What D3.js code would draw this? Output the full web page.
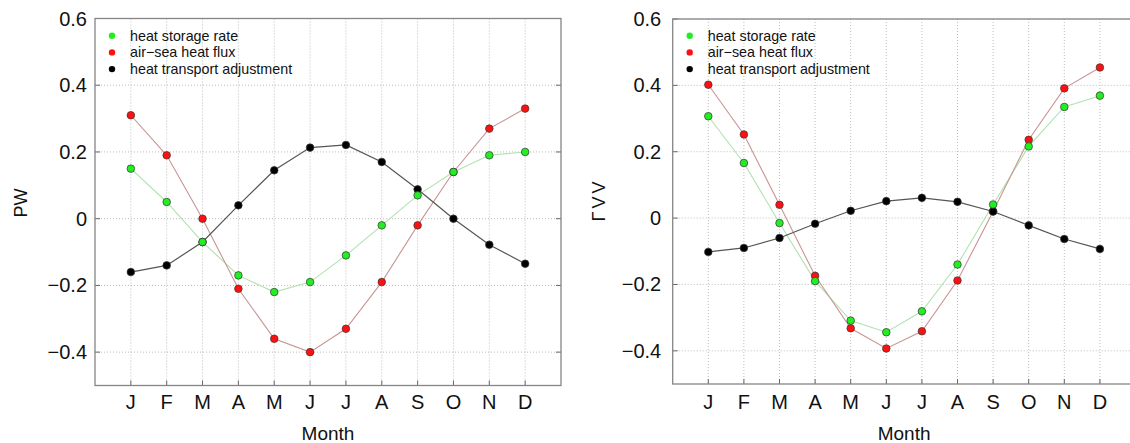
<!DOCTYPE html>
<html>
<head>
<meta charset="utf-8">
<script src="https://cdn.jsdelivr.net/npm/d3@7"></script>
<style>
  body { margin: 0; background: #fff; }
  text { font-family: "Liberation Sans", Arial, sans-serif; fill: #111; }
</style>
</head>
<body>
<script>
var width = 1130,
    height = 443;

var months = ["J", "F", "M", "A", "M", "J", "J", "A", "S", "O", "N", "D"];
var yTicks = [-0.4, -0.2, 0, 0.2, 0.4, 0.6];
var seriesNames = ["heat storage rate", "air\u2212sea heat flux", "heat transport adjustment"];

// left panel values (PW)
var leftStorage = [0.15, 0.05, -0.07, -0.17, -0.22, -0.19, -0.11, -0.02, 0.07, 0.14, 0.19, 0.20];
var leftFlux = [0.31, 0.19, 0.00, -0.21, -0.36, -0.40, -0.33, -0.19, -0.02, 0.14, 0.27, 0.33];
var leftTransport = [-0.16, -0.14, -0.07, 0.04, 0.145, 0.213, 0.221, 0.17, 0.088, 0.00, -0.078, -0.135];

// right panel values
var rightStorage = [0.307, 0.166, -0.015, -0.19, -0.309, -0.344, -0.281, -0.14, 0.041, 0.216, 0.335, 0.369];
var rightFlux = [0.402, 0.252, 0.04, -0.174, -0.332, -0.393, -0.341, -0.188, 0.02, 0.236, 0.391, 0.454];
var rightTransport = [-0.102, -0.09, -0.06, -0.017, 0.022, 0.051, 0.061, 0.049, 0.02, -0.022, -0.063, -0.093];

var svg = d3.select("body").append("svg")
    .attr("width", width)
    .attr("height", height);

var seriesStyle = [
    { line: "#b0e2b0", fill: "#22ee22" },
    { line: "#c99494", fill: "#ff1010" },
    { line: "#555555", fill: "#000000" }
];

function drawPanel(p) {
    var g = svg.append("g");

    var x = d3.scaleLinear().domain([0, 13]).range([p.left, p.right]);
    var y = d3.scaleLinear().domain([-0.5, 0.6]).range([p.bottom, p.top]);

    // grid, dotted
    g.selectAll(".vgrid")
        .data(months)
        .enter().append("line")
        .attr("x1", function (d, i) { return x(i + 1); })
        .attr("x2", function (d, i) { return x(i + 1); })
        .attr("y1", p.top)
        .attr("y2", p.bottom)
        .attr("stroke", "#bdbdbd")
        .attr("stroke-width", 1)
        .attr("stroke-dasharray", "1,2");

    g.selectAll(".hgrid")
        .data(yTicks)
        .enter().append("line")
        .attr("x1", p.left)
        .attr("x2", p.right)
        .attr("y1", function (d) { return y(d); })
        .attr("y2", function (d) { return y(d); })
        .attr("stroke", "#bdbdbd")
        .attr("stroke-width", 1)
        .attr("stroke-dasharray", "1,2");

    // tick marks (inward, mirrored)
    g.selectAll(".ytickL")
        .data(yTicks)
        .enter().append("line")
        .attr("x1", p.left).attr("x2", p.left + 5)
        .attr("y1", function (d) { return y(d); })
        .attr("y2", function (d) { return y(d); })
        .attr("stroke", "#666");
    g.selectAll(".ytickR")
        .data(yTicks)
        .enter().append("line")
        .attr("x1", p.right).attr("x2", p.right - 5)
        .attr("y1", function (d) { return y(d); })
        .attr("y2", function (d) { return y(d); })
        .attr("stroke", "#666");
    g.selectAll(".xtick")
        .data(months)
        .enter().append("line")
        .attr("x1", function (d, i) { return x(i + 1); })
        .attr("x2", function (d, i) { return x(i + 1); })
        .attr("y1", p.bottom).attr("y2", p.bottom - 5)
        .attr("stroke", "#666");

    // border
    g.append("rect")
        .attr("x", p.left)
        .attr("y", p.top)
        .attr("width", p.right - p.left)
        .attr("height", p.bottom - p.top)
        .attr("fill", "none")
        .attr("stroke", "#858585")
        .attr("stroke-width", 1.3);

    // tick labels
    g.selectAll(".ylab")
        .data(yTicks)
        .enter().append("text")
        .attr("x", p.left - p.labelGap)
        .attr("y", function (d) { return y(d) + 7; })
        .attr("text-anchor", "end")
        .style("font-size", "20px")
        .text(function (d) { return d == 0 ? "0" : d3.format(".1f")(d).replace("-", "\u2212"); });

    g.selectAll(".xlab")
        .data(months)
        .enter().append("text")
        .attr("x", function (d, i) { return x(i + 1); })
        .attr("y", 409)
        .attr("text-anchor", "middle")
        .style("font-size", "20px")
        .text(function (d) { return d; });

    g.append("text")
        .attr("x", (p.left + p.right) / 2)
        .attr("y", 440)
        .attr("text-anchor", "middle")
        .style("font-size", "19px")
        .text("Month");

    g.append("text")
        .attr("transform", "translate(" + p.ylabelX + "," + p.ylabelY + ") rotate(-90)")
        .attr("text-anchor", "middle")
        .style("font-size", "18px")
        .style("letter-spacing", p.ylabelSpacing)
        .text(p.ylabel);

    // lines then markers
    var series = [p.storage, p.flux, p.transport];
    var line = d3.line()
        .x(function (d, i) { return x(i + 1); })
        .y(function (d) { return y(d); });

    series.forEach(function (s, k) {
        g.append("path")
            .attr("d", line(s))
            .attr("fill", "none")
            .attr("stroke", seriesStyle[k].line)
            .attr("stroke-width", k == 2 ? 1.2 : 1.1);
    });

    // draw order: flux, transport, storage
    [1, 2, 0].forEach(function (k) {
        g.selectAll(".pt" + k)
            .data(series[k])
            .enter().append("circle")
            .attr("cx", function (d, i) { return x(i + 1); })
            .attr("cy", function (d) { return y(d); })
            .attr("r", 3.8)
            .attr("fill", seriesStyle[k].fill)
            .attr("stroke", "#333")
            .attr("stroke-width", 0.7);
    });

    // legend
    var leg = g.selectAll(".leg")
        .data(seriesNames)
        .enter().append("g")
        .attr("transform", function (d, i) {
            return "translate(" + (p.left + 17) + "," + (35.7 + i * 16.7) + ")";
        });
    leg.append("circle")
        .attr("r", 3.2)
        .attr("fill", function (d, i) { return seriesStyle[i].fill; });
    leg.append("text")
        .attr("x", 18)
        .attr("y", 5)
        .style("font-size", "14.3px")
        .text(function (d) { return d; });
}

drawPanel({
    left: 95, right: 561, top: 18.5, bottom: 385.5,
    labelGap: 8, ylabelX: 27, ylabelY: 203, ylabel: "PW", ylabelSpacing: "0px",
    storage: leftStorage, flux: leftFlux, transport: leftTransport
});

drawPanel({
    left: 672.7, right: 1135.5, top: 19, bottom: 384,
    labelGap: 11.5, ylabelX: 605, ylabelY: 200, ylabel: "\u0393VV", ylabelSpacing: "3px",
    storage: rightStorage, flux: rightFlux, transport: rightTransport
});
</script>
</body>
</html>
